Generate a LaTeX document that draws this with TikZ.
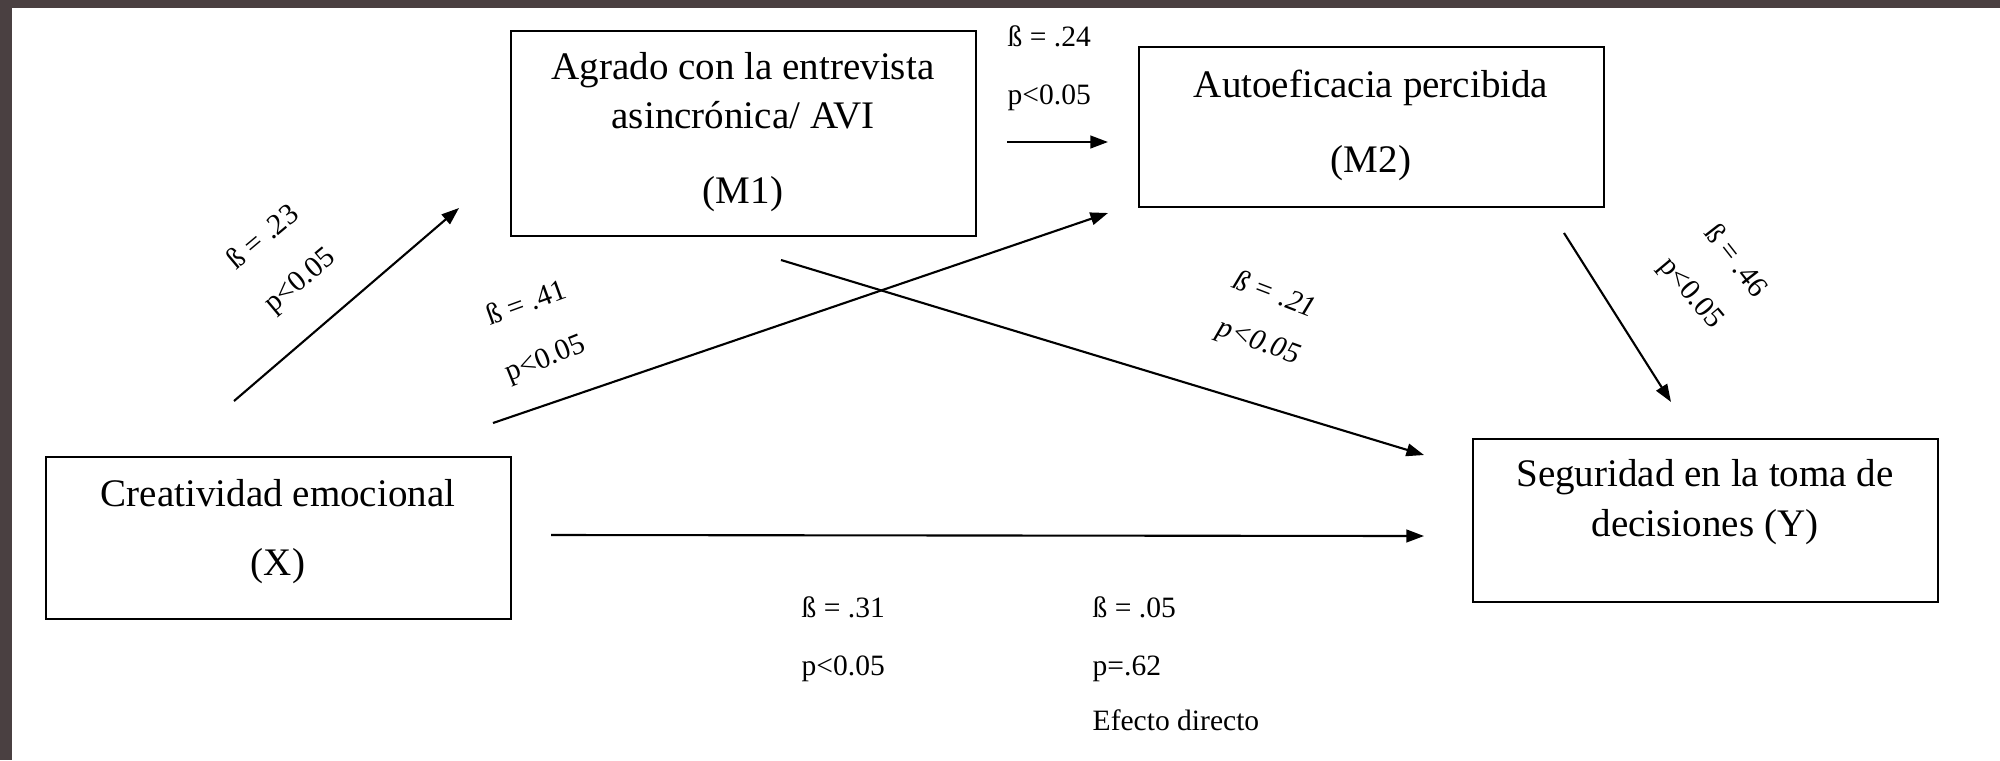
\documentclass[tikz,border=0pt]{standalone}
\usepackage{fontspec}
\setmainfont{Liberation Serif}
\usetikzlibrary{arrows.meta}
\definecolor{framegray}{RGB}{74,64,65}
\begin{document}
\begin{tikzpicture}[x=0.01cm,y=-0.01cm,
  varbox/.style={draw=black, line width=0.7pt, minimum width=4.65cm, minimum height=#1, inner sep=0pt},
  big/.style={font=\fontsize{11.1}{13}\selectfont, inner sep=0pt, anchor=base},
  small/.style={font=\fontsize{8.4}{10}\selectfont, inner sep=0pt},
  smallL/.style={small, anchor=base west},
  conn/.style={line width=0.6pt, -{Triangle[length=5pt,width=3.6pt]}}]
\useasboundingbox (0,0) rectangle (2000,760);
\fill[white] (0,0) rectangle (2000,760);
\fill[framegray] (0,0) rectangle (2000,8);
\fill[framegray] (0,0) rectangle (12,760);

% boxes
\node[varbox=2.05cm] (m1) at (743.5,133.5) {};
\node[varbox=1.6cm] (m2) at (1371.5,127) {};
\node[varbox=1.62cm] (x) at (278.5,538) {};
\node[varbox=1.63cm] (y) at (1705.5,520.5) {};

% box texts
\node[big] (m1a) at (743,79) {Agrado con la entrevista};
\node[big] (m1b) at (743,128) {asincrónica/ AVI};
\node[big] (m1c) at (743,203) {(M1)};
\node[big] (m2a) at (1371,97) {Autoeficacia percibida};
\node[big] (m2b) at (1371,172) {(M2)};
\node[big] (xa) at (278,506) {Creatividad emocional};
\node[big] (xb) at (278,575) {(X)};
\node[big] (ya) at (1705,486) {Seguridad en la toma de};
\node[big] (yb) at (1705,536) {decisiones (Y)};

% connector end points
\coordinate (s23) at (234,401);  \coordinate (e23) at (459,208);
\coordinate (s41) at (493,423);  \coordinate (e41) at (1108,213);
\coordinate (s24) at (1007,142); \coordinate (e24) at (1108,142);
\coordinate (s21) at (781,260);  \coordinate (e21) at (1424,455);
\coordinate (s46) at (1564,233); \coordinate (e46) at (1671,402);
\coordinate (sD) at (551,535);   \coordinate (eD) at (1424,536);

\draw[conn] (s23) -- (e23);
\draw[conn] (s41) -- (e41);
\draw[conn] (s24) -- (e24);
\draw[conn] (s21) -- (e21);
\draw[conn] (s46) -- (e46);
\draw[conn] (sD) -- (eD);

% labels
\node[smallL] (l24b) at (1007,46) {ß = .24};
\node[smallL] (l24p) at (1007,104) {p<0.05};
\node[small, rotate=40] (l23b) at (262,236) {ß = .23};
\node[small, rotate=40] (l23p) at (301,282) {p<0.05};
\node[small, rotate=20] (l41b) at (526,302) {ß = .41};
\node[small, rotate=22] (l41p) at (546,360) {p<0.05};
\node[small, rotate=-21, font=\fontsize{8.4}{10}\selectfont\itshape] (l21b) at (1275,293) {ß = .21};
\node[small, rotate=-20, font=\fontsize{8.4}{10}\selectfont\itshape] (l21p) at (1258,343) {p<0.05};
\node[small, rotate=-52] (l46b) at (1737,260) {ß = .46};
\node[small, rotate=-50] (l46p) at (1690,294) {p<0.05};
\node[smallL] (l31b) at (801,617) {ß = .31};
\node[smallL] (l31p) at (801,675) {p<0.05};
\node[smallL] (l05b) at (1092,617) {ß = .05};
\node[smallL] (l05p) at (1092,675) {p=.62};
\node[smallL] (l05e) at (1092,730) {Efecto directo};
\end{tikzpicture}
\end{document}
